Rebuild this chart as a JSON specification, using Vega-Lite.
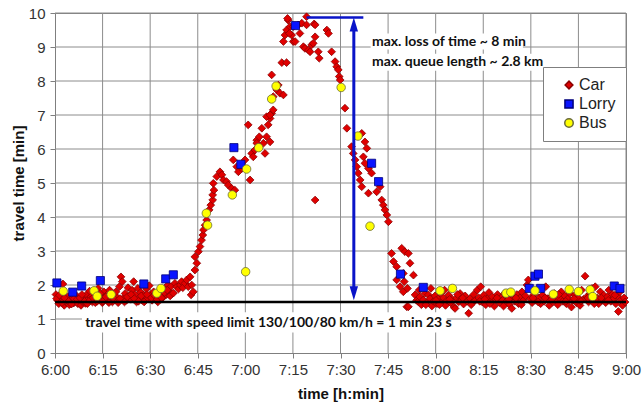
{
  "$schema": "https://vega.github.io/schema/vega-lite/v6.json",
  "width": 571,
  "height": 340,
  "autosize": {"type": "none"},
  "padding": {"left": 55, "top": 13, "right": 17, "bottom": 51},
  "background": "white",
  "config": {
    "view": {"stroke": "#7f7f7f", "strokeWidth": 1},
    "axis": {
      "domainColor": "#7f7f7f", "tickColor": "#7f7f7f", "tickSize": 5,
      "labelFont": "Liberation Sans", "labelFontSize": 15, "labelColor": "#333333", "labelFlush": false,
      "titleFont": "Liberation Sans", "titleFontSize": 15, "titleFontWeight": "bold", "titleColor": "#111111"
    },
    "legend": {
      "orient": "none", "legendX": 488, "legendY": 54,
      "fillColor": "white", "strokeColor": "#7f7f7f", "padding": 10,
      "labelFont": "Liberation Sans", "labelFontSize": 16, "labelColor": "#222222",
      "rowPadding": 3, "labelOffset": 2, "symbolOffset": 8, "zindex": 2
    }
  },
  "datasets": {
    "one": [{}],
    "xgrid": [{"g":15},{"g":30},{"g":45},{"g":60},{"g":75},{"g":90},{"g":105},{"g":120},{"g":135},{"g":150},{"g":165},{"g":180}],
    "ygrid": [{"g":1},{"g":2},{"g":3},{"g":4},{"g":5},{"g":6},{"g":7},{"g":8},{"g":9},{"g":10}],
    "obs": [
      {"t":0.3,"v":1.72,"s":"Car"},{"t":0.8,"v":1.55,"s":"Car"},{"t":1.2,"v":1.45,"s":"Car"},{"t":1.6,"v":1.62,"s":"Car"},{"t":2.0,"v":1.52,"s":"Car"},{"t":2.5,"v":2.03,"s":"Car"},{"t":2.9,"v":1.4,"s":"Car"},{"t":3.3,"v":1.58,"s":"Car"},{"t":3.7,"v":1.48,"s":"Car"},{"t":4.1,"v":1.66,"s":"Car"},{"t":4.5,"v":1.42,"s":"Car"},{"t":5.0,"v":1.55,"s":"Car"},{"t":5.4,"v":1.6,"s":"Car"},{"t":5.9,"v":1.47,"s":"Car"},{"t":6.3,"v":1.52,"s":"Car"},{"t":6.8,"v":1.68,"s":"Car"},{"t":7.2,"v":1.45,"s":"Car"},{"t":7.7,"v":1.55,"s":"Car"},{"t":8.2,"v":1.4,"s":"Car"},{"t":8.7,"v":1.5,"s":"Car"},{"t":9.1,"v":1.62,"s":"Car"},{"t":9.6,"v":1.46,"s":"Car"},{"t":10.0,"v":1.72,"s":"Car"},{"t":10.5,"v":1.58,"s":"Car"},{"t":10.9,"v":1.82,"s":"Car"},{"t":11.3,"v":1.65,"s":"Car"},{"t":11.8,"v":1.5,"s":"Car"},{"t":12.2,"v":1.55,"s":"Car"},{"t":12.7,"v":1.48,"s":"Car"},{"t":13.1,"v":1.7,"s":"Car"},{"t":13.6,"v":1.9,"s":"Car"},{"t":14.0,"v":1.56,"s":"Car"},{"t":14.5,"v":1.62,"s":"Car"},{"t":14.9,"v":1.48,"s":"Car"},{"t":15.4,"v":1.8,"s":"Car"},{"t":15.8,"v":1.58,"s":"Car"},{"t":16.3,"v":1.7,"s":"Car"},{"t":16.7,"v":1.52,"s":"Car"},{"t":17.2,"v":1.85,"s":"Car"},{"t":17.6,"v":1.6,"s":"Car"},{"t":18.1,"v":1.5,"s":"Car"},{"t":18.5,"v":1.72,"s":"Car"},{"t":19.0,"v":1.56,"s":"Car"},{"t":19.4,"v":1.65,"s":"Car"},{"t":19.9,"v":1.48,"s":"Car"},{"t":20.3,"v":1.95,"s":"Car"},{"t":20.8,"v":2.24,"s":"Car"},{"t":21.2,"v":2.1,"s":"Car"},{"t":21.6,"v":1.62,"s":"Car"},{"t":22.1,"v":1.75,"s":"Car"},{"t":22.5,"v":1.55,"s":"Car"},{"t":23.0,"v":1.92,"s":"Car"},{"t":23.4,"v":1.68,"s":"Car"},{"t":23.9,"v":1.58,"s":"Car"},{"t":24.3,"v":1.85,"s":"Car"},{"t":24.8,"v":2.1,"s":"Car"},{"t":25.2,"v":1.72,"s":"Car"},{"t":25.7,"v":1.5,"s":"Car"},{"t":26.1,"v":1.9,"s":"Car"},{"t":26.6,"v":1.62,"s":"Car"},{"t":27.0,"v":1.78,"s":"Car"},{"t":27.5,"v":1.55,"s":"Car"},{"t":27.9,"v":1.7,"s":"Car"},{"t":28.4,"v":1.65,"s":"Car"},{"t":28.8,"v":1.88,"s":"Car"},{"t":29.3,"v":1.6,"s":"Car"},{"t":29.7,"v":1.98,"s":"Car"},{"t":30.2,"v":1.72,"s":"Car"},{"t":30.6,"v":1.55,"s":"Car"},{"t":31.1,"v":1.8,"s":"Car"},{"t":31.5,"v":1.62,"s":"Car"},{"t":32.0,"v":1.68,"s":"Car"},{"t":32.4,"v":1.5,"s":"Car"},{"t":32.9,"v":1.75,"s":"Car"},{"t":33.3,"v":1.58,"s":"Car"},{"t":33.8,"v":1.85,"s":"Car"},{"t":34.2,"v":1.65,"s":"Car"},{"t":34.7,"v":1.9,"s":"Car"},{"t":35.1,"v":1.72,"s":"Car"},{"t":35.6,"v":2.0,"s":"Car"},{"t":36.0,"v":1.8,"s":"Car"},{"t":36.5,"v":1.95,"s":"Car"},{"t":36.9,"v":1.75,"s":"Car"},
      {"t":0.5,"v":1.6,"s":"Car"},{"t":1.4,"v":1.7,"s":"Car"},{"t":2.2,"v":1.48,"s":"Car"},{"t":3.0,"v":1.62,"s":"Car"},{"t":4.3,"v":1.52,"s":"Car"},{"t":5.2,"v":1.44,"s":"Car"},{"t":6.0,"v":1.6,"s":"Car"},{"t":7.0,"v":1.58,"s":"Car"},{"t":7.9,"v":1.62,"s":"Car"},{"t":8.5,"v":1.72,"s":"Car"},{"t":9.3,"v":1.52,"s":"Car"},{"t":10.2,"v":1.45,"s":"Car"},{"t":11.0,"v":1.55,"s":"Car"},{"t":12.0,"v":1.62,"s":"Car"},{"t":13.3,"v":1.52,"s":"Car"},{"t":14.2,"v":1.75,"s":"Car"},{"t":15.1,"v":1.52,"s":"Car"},{"t":16.0,"v":1.65,"s":"Car"},{"t":17.0,"v":1.48,"s":"Car"},{"t":18.3,"v":1.62,"s":"Car"},{"t":19.2,"v":1.8,"s":"Car"},{"t":20.5,"v":1.6,"s":"Car"},{"t":21.9,"v":1.5,"s":"Car"},{"t":22.8,"v":1.65,"s":"Car"},{"t":24.0,"v":1.72,"s":"Car"},{"t":25.0,"v":1.6,"s":"Car"},{"t":26.3,"v":1.52,"s":"Car"},{"t":27.2,"v":1.68,"s":"Car"},{"t":28.1,"v":1.5,"s":"Car"},{"t":29.0,"v":1.72,"s":"Car"},{"t":30.4,"v":1.62,"s":"Car"},{"t":31.3,"v":1.7,"s":"Car"},{"t":32.2,"v":1.58,"s":"Car"},{"t":33.6,"v":1.62,"s":"Car"},{"t":34.5,"v":1.78,"s":"Car"},{"t":35.4,"v":1.85,"s":"Car"},{"t":36.3,"v":1.68,"s":"Car"},
      {"t":37.3,"v":1.76,"s":"Car"},{"t":37.8,"v":2.05,"s":"Car"},{"t":38.4,"v":1.95,"s":"Car"},{"t":38.9,"v":1.88,"s":"Car"},{"t":39.5,"v":2.0,"s":"Car"},{"t":39.9,"v":2.1,"s":"Car"},{"t":40.3,"v":1.92,"s":"Car"},{"t":41.0,"v":2.05,"s":"Car"},{"t":41.5,"v":2.15,"s":"Car"},{"t":42.0,"v":1.95,"s":"Car"},{"t":42.6,"v":2.24,"s":"Car"},{"t":42.9,"v":1.71,"s":"Car"},{"t":43.1,"v":2.0,"s":"Car"},{"t":43.6,"v":1.8,"s":"Car"},{"t":44.1,"v":2.44,"s":"Car"},{"t":44.7,"v":2.64,"s":"Car"},{"t":44.1,"v":2.83,"s":"Car"},{"t":45.2,"v":2.98,"s":"Car"},{"t":45.7,"v":3.13,"s":"Car"},{"t":46.2,"v":3.32,"s":"Car"},{"t":46.6,"v":3.47,"s":"Car"},{"t":46.8,"v":3.62,"s":"Car"},{"t":47.3,"v":3.76,"s":"Car"},{"t":47.8,"v":3.91,"s":"Car"},{"t":48.6,"v":4.21,"s":"Car"},{"t":49.1,"v":4.35,"s":"Car"},{"t":49.7,"v":4.5,"s":"Car"},{"t":49.7,"v":4.65,"s":"Car"},{"t":50.1,"v":4.79,"s":"Car"},{"t":49.9,"v":4.99,"s":"Car"},{"t":51.0,"v":5.19,"s":"Car"},{"t":52.0,"v":5.33,"s":"Car"},{"t":52.6,"v":5.24,"s":"Car"},{"t":53.1,"v":5.09,"s":"Car"},{"t":54.1,"v":5.04,"s":"Car"},{"t":54.6,"v":4.94,"s":"Car"},{"t":55.7,"v":4.84,"s":"Car"},{"t":56.7,"v":4.79,"s":"Car"},{"t":56.2,"v":5.68,"s":"Car"},{"t":57.3,"v":5.48,"s":"Car"},{"t":57.8,"v":5.33,"s":"Car"},{"t":58.9,"v":5.43,"s":"Car"},{"t":59.9,"v":5.68,"s":"Car"},{"t":60.9,"v":6.71,"s":"Car"},{"t":61.5,"v":5.09,"s":"Car"},{"t":62.0,"v":5.87,"s":"Car"},{"t":63.0,"v":5.97,"s":"Car"},{"t":63.6,"v":6.26,"s":"Car"},{"t":64.4,"v":6.36,"s":"Car"},{"t":65.2,"v":6.61,"s":"Car"},{"t":65.7,"v":6.17,"s":"Car"},{"t":66.2,"v":5.87,"s":"Car"},{"t":66.7,"v":6.36,"s":"Car"},{"t":67.2,"v":6.71,"s":"Car"},{"t":67.8,"v":6.9,"s":"Car"},{"t":68.3,"v":7.05,"s":"Car"},{"t":68.8,"v":7.15,"s":"Car"},{"t":67.8,"v":6.21,"s":"Car"},{"t":64.1,"v":6.07,"s":"Car"},{"t":62.5,"v":5.77,"s":"Car"},{"t":63.6,"v":6.17,"s":"Car"},{"t":66.7,"v":6.95,"s":"Car"},{"t":67.8,"v":7.0,"s":"Car"},{"t":68.3,"v":8.18,"s":"Car"},{"t":68.8,"v":7.54,"s":"Car"},{"t":69.9,"v":7.74,"s":"Car"},{"t":70.9,"v":7.64,"s":"Car"},{"t":72.0,"v":7.59,"s":"Car"},{"t":70.4,"v":7.88,"s":"Car"},{"t":71.5,"v":8.54,"s":"Car"},{"t":73.0,"v":8.54,"s":"Car"},{"t":72.0,"v":9.16,"s":"Car"},{"t":72.5,"v":9.35,"s":"Car"},{"t":73.0,"v":9.5,"s":"Car"},{"t":73.5,"v":9.79,"s":"Car"},{"t":73.3,"v":9.84,"s":"Car"},{"t":74.1,"v":9.6,"s":"Car"},{"t":74.6,"v":9.35,"s":"Car"},{"t":75.1,"v":9.16,"s":"Car"},{"t":73.9,"v":9.4,"s":"Car"},{"t":75.1,"v":9.6,"s":"Car"},{"t":75.7,"v":9.16,"s":"Car"},{"t":76.7,"v":9.65,"s":"Car"},{"t":77.2,"v":9.4,"s":"Car"},{"t":77.8,"v":9.7,"s":"Car"},{"t":78.3,"v":9.01,"s":"Car"},{"t":78.8,"v":8.96,"s":"Car"},{"t":79.3,"v":9.65,"s":"Car"},{"t":79.3,"v":9.89,"s":"Car"},{"t":79.9,"v":8.91,"s":"Car"},{"t":80.4,"v":8.86,"s":"Car"},{"t":80.9,"v":9.06,"s":"Car"},{"t":81.4,"v":9.11,"s":"Car"},{"t":81.7,"v":9.68,"s":"Car"},{"t":82.0,"v":9.3,"s":"Car"},{"t":82.0,"v":9.65,"s":"Car"},{"t":83.0,"v":8.86,"s":"Car"},{"t":83.3,"v":8.67,"s":"Car"},{"t":82.0,"v":4.5,"s":"Car"},{"t":85.7,"v":9.5,"s":"Car"},{"t":86.2,"v":9.4,"s":"Car"},{"t":87.2,"v":8.86,"s":"Car"},{"t":88.3,"v":8.57,"s":"Car"},{"t":88.8,"v":8.42,"s":"Car"},{"t":89.3,"v":8.33,"s":"Car"},{"t":89.6,"v":8.13,"s":"Car"},{"t":89.9,"v":8.03,"s":"Car"},{"t":91.4,"v":7.2,"s":"Car"},{"t":92.0,"v":6.61,"s":"Car"},
      {"t":96.7,"v":6.46,"s":"Car"},{"t":97.7,"v":6.21,"s":"Car"},{"t":98.3,"v":6.02,"s":"Car"},{"t":93.5,"v":6.07,"s":"Car"},{"t":94.0,"v":5.87,"s":"Car"},{"t":94.6,"v":5.68,"s":"Car"},{"t":95.1,"v":5.48,"s":"Car"},{"t":97.2,"v":5.77,"s":"Car"},{"t":97.7,"v":5.58,"s":"Car"},{"t":98.8,"v":5.43,"s":"Car"},{"t":99.8,"v":5.29,"s":"Car"},{"t":95.6,"v":5.29,"s":"Car"},{"t":96.2,"v":5.09,"s":"Car"},{"t":96.7,"v":4.89,"s":"Car"},{"t":98.8,"v":4.7,"s":"Car"},{"t":101.4,"v":4.74,"s":"Car"},{"t":102.5,"v":4.89,"s":"Car"},{"t":103.0,"v":4.5,"s":"Car"},{"t":103.5,"v":4.35,"s":"Car"},{"t":104.0,"v":4.21,"s":"Car"},{"t":104.6,"v":4.06,"s":"Car"},{"t":105.1,"v":3.86,"s":"Car"},{"t":106.1,"v":2.93,"s":"Car"},{"t":106.7,"v":2.69,"s":"Car"},{"t":107.7,"v":2.54,"s":"Car"},{"t":109.3,"v":3.08,"s":"Car"},{"t":110.3,"v":2.98,"s":"Car"},{"t":111.4,"v":2.93,"s":"Car"},{"t":111.9,"v":2.64,"s":"Car"},{"t":107.7,"v":2.15,"s":"Car"},{"t":109.8,"v":2.34,"s":"Car"},{"t":113.0,"v":2.29,"s":"Car"},{"t":108.8,"v":1.95,"s":"Car"},{"t":109.8,"v":1.8,"s":"Car"},{"t":110.1,"v":2.1,"s":"Car"},{"t":111.1,"v":1.9,"s":"Car"},{"t":110.9,"v":1.36,"s":"Car"},{"t":111.4,"v":1.36,"s":"Car"},
      {"t":113.5,"v":1.71,"s":"Car"},{"t":114.0,"v":1.55,"s":"Car"},{"t":114.5,"v":1.51,"s":"Car"},{"t":115.0,"v":1.65,"s":"Car"},{"t":115.5,"v":1.42,"s":"Car"},{"t":116.1,"v":1.56,"s":"Car"},{"t":116.6,"v":1.75,"s":"Car"},{"t":117.2,"v":1.48,"s":"Car"},{"t":117.7,"v":1.71,"s":"Car"},{"t":118.2,"v":1.6,"s":"Car"},{"t":118.8,"v":1.38,"s":"Car"},{"t":119.3,"v":1.52,"s":"Car"},{"t":119.8,"v":1.68,"s":"Car"},{"t":120.4,"v":1.45,"s":"Car"},{"t":120.9,"v":1.6,"s":"Car"},{"t":121.5,"v":1.75,"s":"Car"},{"t":122.0,"v":1.5,"s":"Car"},{"t":122.5,"v":1.62,"s":"Car"},{"t":123.1,"v":1.4,"s":"Car"},{"t":123.6,"v":1.55,"s":"Car"},{"t":124.1,"v":1.7,"s":"Car"},{"t":124.7,"v":1.48,"s":"Car"},{"t":125.2,"v":1.58,"s":"Car"},{"t":125.8,"v":1.35,"s":"Car"},{"t":126.1,"v":1.31,"s":"Car"},{"t":126.6,"v":1.62,"s":"Car"},{"t":127.2,"v":1.5,"s":"Car"},{"t":127.7,"v":1.75,"s":"Car"},{"t":128.2,"v":1.55,"s":"Car"},{"t":128.8,"v":1.44,"s":"Car"},{"t":129.3,"v":1.68,"s":"Car"},{"t":129.9,"v":1.52,"s":"Car"},{"t":130.4,"v":1.17,"s":"Car"},{"t":130.9,"v":1.6,"s":"Car"},{"t":131.5,"v":1.48,"s":"Car"},{"t":132.0,"v":1.72,"s":"Car"},{"t":132.5,"v":1.55,"s":"Car"},{"t":133.1,"v":1.85,"s":"Car"},{"t":133.6,"v":1.62,"s":"Car"},{"t":134.2,"v":1.95,"s":"Car"},{"t":134.7,"v":1.5,"s":"Car"},{"t":135.2,"v":1.7,"s":"Car"},{"t":135.8,"v":1.42,"s":"Car"},{"t":136.3,"v":1.6,"s":"Car"},{"t":136.8,"v":1.78,"s":"Car"},{"t":137.4,"v":1.52,"s":"Car"},{"t":137.9,"v":1.65,"s":"Car"},{"t":138.5,"v":1.38,"s":"Car"},{"t":139.0,"v":1.58,"s":"Car"},{"t":139.5,"v":1.72,"s":"Car"},{"t":140.1,"v":1.48,"s":"Car"},{"t":140.6,"v":1.62,"s":"Car"},{"t":141.1,"v":1.55,"s":"Car"},{"t":141.7,"v":1.75,"s":"Car"},{"t":142.2,"v":1.5,"s":"Car"},{"t":142.8,"v":1.65,"s":"Car"},{"t":143.3,"v":1.42,"s":"Car"},{"t":144.0,"v":1.31,"s":"Car"},{"t":144.5,"v":1.6,"s":"Car"},{"t":145.0,"v":1.52,"s":"Car"},{"t":145.6,"v":1.72,"s":"Car"},{"t":146.1,"v":1.45,"s":"Car"},{"t":146.6,"v":1.62,"s":"Car"},{"t":147.2,"v":1.8,"s":"Car"},{"t":147.7,"v":1.55,"s":"Car"},{"t":148.3,"v":1.68,"s":"Car"},{"t":148.8,"v":2.0,"s":"Car"},{"t":149.2,"v":2.15,"s":"Car"},{"t":149.9,"v":1.6,"s":"Car"},{"t":150.4,"v":1.48,"s":"Car"},{"t":151.0,"v":1.72,"s":"Car"},{"t":151.5,"v":1.55,"s":"Car"},{"t":152.0,"v":1.85,"s":"Car"},{"t":152.6,"v":1.62,"s":"Car"},{"t":153.1,"v":1.45,"s":"Car"},{"t":153.7,"v":1.7,"s":"Car"},{"t":154.2,"v":1.52,"s":"Car"},{"t":154.7,"v":1.95,"s":"Car"},{"t":155.3,"v":1.6,"s":"Car"},{"t":155.8,"v":1.4,"s":"Car"},{"t":156.3,"v":1.65,"s":"Car"},{"t":156.9,"v":1.5,"s":"Car"},{"t":157.4,"v":1.75,"s":"Car"},{"t":158.0,"v":1.55,"s":"Car"},{"t":158.5,"v":1.42,"s":"Car"},{"t":159.0,"v":1.62,"s":"Car"},{"t":159.6,"v":1.8,"s":"Car"},{"t":160.1,"v":1.52,"s":"Car"},{"t":160.7,"v":1.68,"s":"Car"},{"t":161.2,"v":1.45,"s":"Car"},{"t":161.7,"v":1.6,"s":"Car"},{"t":162.3,"v":1.75,"s":"Car"},{"t":162.8,"v":1.35,"s":"Car"},{"t":163.3,"v":1.55,"s":"Car"},{"t":163.9,"v":1.7,"s":"Car"},{"t":164.4,"v":1.48,"s":"Car"},{"t":165.0,"v":1.62,"s":"Car"},{"t":165.5,"v":1.4,"s":"Car"},{"t":166.0,"v":1.85,"s":"Car"},{"t":166.6,"v":1.58,"s":"Car"},{"t":167.1,"v":2.26,"s":"Car"},{"t":167.6,"v":1.65,"s":"Car"},{"t":168.2,"v":1.5,"s":"Car"},{"t":168.7,"v":1.75,"s":"Car"},{"t":169.3,"v":1.9,"s":"Car"},{"t":169.8,"v":1.55,"s":"Car"},{"t":170.3,"v":1.95,"s":"Car"},{"t":170.9,"v":1.62,"s":"Car"},{"t":171.4,"v":1.45,"s":"Car"},{"t":171.9,"v":1.8,"s":"Car"},{"t":172.5,"v":1.55,"s":"Car"},{"t":173.0,"v":1.7,"s":"Car"},{"t":173.6,"v":1.48,"s":"Car"},{"t":174.1,"v":1.65,"s":"Car"},{"t":174.6,"v":1.85,"s":"Car"},{"t":175.2,"v":1.52,"s":"Car"},{"t":175.7,"v":1.72,"s":"Car"},{"t":176.2,"v":1.6,"s":"Car"},{"t":176.8,"v":1.45,"s":"Car"},{"t":177.3,"v":1.68,"s":"Car"},{"t":177.6,"v":1.22,"s":"Car"},{"t":178.4,"v":1.55,"s":"Car"},{"t":178.9,"v":1.4,"s":"Car"},{"t":179.4,"v":1.62,"s":"Car"},
      {"t":114.8,"v":1.85,"s":"Car"},{"t":116.9,"v":1.42,"s":"Car"},{"t":118.5,"v":1.9,"s":"Car"},{"t":120.1,"v":1.55,"s":"Car"},{"t":121.2,"v":1.42,"s":"Car"},{"t":122.8,"v":1.85,"s":"Car"},{"t":124.4,"v":1.58,"s":"Car"},{"t":126.9,"v":1.72,"s":"Car"},{"t":128.5,"v":1.62,"s":"Car"},{"t":131.2,"v":1.42,"s":"Car"},{"t":133.9,"v":1.52,"s":"Car"},{"t":135.5,"v":1.58,"s":"Car"},{"t":137.1,"v":1.45,"s":"Car"},{"t":139.3,"v":1.62,"s":"Car"},{"t":141.4,"v":1.38,"s":"Car"},{"t":143.0,"v":1.58,"s":"Car"},{"t":145.3,"v":1.62,"s":"Car"},{"t":147.0,"v":1.42,"s":"Car"},{"t":150.7,"v":1.62,"s":"Car"},{"t":152.3,"v":1.5,"s":"Car"},{"t":154.5,"v":1.62,"s":"Car"},{"t":156.6,"v":1.58,"s":"Car"},{"t":158.8,"v":1.72,"s":"Car"},{"t":161.0,"v":1.52,"s":"Car"},{"t":163.6,"v":1.6,"s":"Car"},{"t":165.8,"v":1.52,"s":"Car"},{"t":168.0,"v":1.62,"s":"Car"},{"t":170.0,"v":1.45,"s":"Car"},{"t":172.2,"v":1.62,"s":"Car"},{"t":174.4,"v":1.55,"s":"Car"},{"t":176.5,"v":1.7,"s":"Car"},{"t":178.1,"v":1.8,"s":"Car"},{"t":179.7,"v":1.5,"s":"Car"},
      {"t":0.6,"v":2.06,"s":"Lorry"},{"t":5.6,"v":1.79,"s":"Lorry"},{"t":8.4,"v":1.97,"s":"Lorry"},{"t":14.3,"v":2.13,"s":"Lorry"},{"t":28.0,"v":2.03,"s":"Lorry"},{"t":34.9,"v":2.18,"s":"Lorry"},{"t":37.3,"v":2.3,"s":"Lorry"},{"t":56.4,"v":6.04,"s":"Lorry"},{"t":58.6,"v":5.55,"s":"Lorry"},{"t":75.8,"v":9.63,"s":"Lorry"},{"t":99.8,"v":5.58,"s":"Lorry"},{"t":102.0,"v":5.04,"s":"Lorry"},{"t":108.9,"v":2.32,"s":"Lorry"},{"t":116.1,"v":1.93,"s":"Lorry"},{"t":149.5,"v":1.9,"s":"Lorry"},{"t":151.3,"v":2.26,"s":"Lorry"},{"t":152.4,"v":2.32,"s":"Lorry"},{"t":153.1,"v":1.9,"s":"Lorry"},{"t":176.3,"v":1.97,"s":"Lorry"},{"t":178.1,"v":1.9,"s":"Lorry"},
      {"t":2.6,"v":1.82,"s":"Bus"},{"t":12.3,"v":1.83,"s":"Bus"},{"t":13.3,"v":1.67,"s":"Bus"},{"t":17.7,"v":1.72,"s":"Bus"},{"t":32.1,"v":1.76,"s":"Bus"},{"t":33.4,"v":1.9,"s":"Bus"},{"t":47.7,"v":4.11,"s":"Bus"},{"t":48.1,"v":3.76,"s":"Bus"},{"t":55.9,"v":4.65,"s":"Bus"},{"t":60.1,"v":2.39,"s":"Bus"},{"t":60.4,"v":5.41,"s":"Bus"},{"t":64.2,"v":6.04,"s":"Bus"},{"t":68.3,"v":7.47,"s":"Bus"},{"t":69.7,"v":7.85,"s":"Bus"},{"t":90.2,"v":7.81,"s":"Bus"},{"t":95.5,"v":6.38,"s":"Bus"},{"t":99.3,"v":3.73,"s":"Bus"},{"t":121.4,"v":1.83,"s":"Bus"},{"t":125.3,"v":1.9,"s":"Bus"},{"t":142.2,"v":1.76,"s":"Bus"},{"t":143.7,"v":1.79,"s":"Bus"},{"t":151.3,"v":1.83,"s":"Bus"},{"t":157.1,"v":1.73,"s":"Bus"},{"t":162.1,"v":1.87,"s":"Bus"},{"t":165.0,"v":1.81,"s":"Bus"},{"t":168.7,"v":1.86,"s":"Bus"},{"t":169.5,"v":1.66,"s":"Bus"}
    ]
  },
  "resolve": {"scale": {"x": "shared", "y": "shared"}, "axis": {"x": "independent", "y": "independent"}},
  "layer": [
    {"data": {"name": "xgrid"}, "mark": {"type": "rule", "color": "#8c8c8c", "strokeWidth": 1},
     "encoding": {"x": {"field": "g", "type": "quantitative", "axis": null}}},
    {"data": {"name": "ygrid"}, "mark": {"type": "rule", "color": "#8c8c8c", "strokeWidth": 1},
     "encoding": {"y": {"field": "g", "type": "quantitative", "axis": null}}},
    {"data": {"name": "one"}, "mark": {"type": "rect", "fill": "white"},
     "encoding": {"x": {"datum": 8.5, "axis": null}, "x2": {"datum": 123.5}, "y": {"datum": 1.2, "axis": null}, "y2": {"datum": 0.6}}},
    {"data": {"name": "one"}, "mark": {"type": "rect", "fill": "white"},
     "encoding": {"x": {"datum": 99.5, "axis": null}, "x2": {"datum": 147.5}, "y": {"datum": 9.4, "axis": null}, "y2": {"datum": 8.93}}},
    {"data": {"name": "one"}, "mark": {"type": "rect", "fill": "white"},
     "encoding": {"x": {"datum": 99.5, "axis": null}, "x2": {"datum": 152.5}, "y": {"datum": 8.8, "axis": null}, "y2": {"datum": 8.3}}},
    {"data": {"name": "obs"},
     "mark": {"type": "point", "filled": true, "opacity": 1, "strokeWidth": 0.8},
     "encoding": {
       "x": {"field": "t", "type": "quantitative", "scale": {"domain": [0, 180], "nice": false, "zero": false},
         "axis": {"grid": false, "values": [0,15,30,45,60,75,90,105,120,135,150,165,180], "title": "time [h:min]", "titleY": 40, "titleBaseline": "middle", "labelPadding": 4, "labelOverlap": false,
           "labelExpr": "(6 + floor(datum.value / 60)) + ':' + (datum.value % 60 < 10 ? '0' : '') + (datum.value % 60)"}},
       "y": {"field": "v", "type": "quantitative", "scale": {"domain": [0, 10], "nice": false},
         "axis": {"grid": false, "values": [0,1,2,3,4,5,6,7,8,9,10], "title": "travel time [min]", "titleX": -37, "titleBaseline": "middle", "labelPadding": 5, "labelOverlap": false}},
       "shape": {"field": "s", "type": "nominal", "scale": {"domain": ["Car", "Lorry", "Bus"], "range": ["diamond", "square", "circle"]}, "legend": {"title": null}},
       "fill": {"field": "s", "type": "nominal", "scale": {"domain": ["Car", "Lorry", "Bus"], "range": ["#e00000", "#0a14ff", "#ffff00"]}, "legend": {"title": null}},
       "stroke": {"field": "s", "type": "nominal", "scale": {"domain": ["Car", "Lorry", "Bus"], "range": ["#8a0000", "#00007a", "#6b6b3a"]}, "legend": {"title": null}},
       "size": {"field": "s", "type": "nominal", "scale": {"domain": ["Car", "Lorry", "Bus"], "range": [60, 72, 64]}, "legend": {"title": null}}
     }},
    {"data": {"name": "one"}, "mark": {"type": "rule", "color": "#000000", "strokeWidth": 2.5},
     "encoding": {"y": {"datum": 1.5, "axis": null}}},
    {"data": {"name": "one"}, "mark": {"type": "rule", "color": "#0a14c8", "strokeWidth": 3},
     "encoding": {"x": {"datum": 94.2, "axis": null}, "y": {"datum": 1.8, "axis": null}, "y2": {"datum": 9.6}}},
    {"data": {"name": "one"}, "mark": {"type": "rule", "color": "#0a14c8", "strokeWidth": 2.5},
     "encoding": {"x": {"datum": 79.3, "axis": null}, "x2": {"datum": 97.2}, "y": {"datum": 9.87, "axis": null}}},
    {"data": {"name": "one"}, "mark": {"type": "point", "filled": true, "color": "#0a14c8", "opacity": 1, "shape": "M0,-1L0.6,1L-0.6,1Z", "size": 196},
     "encoding": {"x": {"datum": 94.2, "axis": null}, "y": {"datum": 9.66, "axis": null}}},
    {"data": {"name": "one"}, "mark": {"type": "point", "filled": true, "color": "#0a14c8", "opacity": 1, "shape": "M0,1L0.6,-1L-0.6,-1Z", "size": 196},
     "encoding": {"x": {"datum": 94.2, "axis": null}, "y": {"datum": 1.76, "axis": null}}},
    {"data": {"name": "one"}, "mark": {"type": "text", "align": "left", "baseline": "middle", "font": "Lato", "fontSize": 14, "fontWeight": "bold", "color": "#111111"},
     "encoding": {"x": {"datum": 99.9, "axis": null}, "y": {"datum": 9.16, "axis": null}, "text": {"value": "max. loss of time ~ 8 min"}}},
    {"data": {"name": "one"}, "mark": {"type": "text", "align": "left", "baseline": "middle", "font": "Lato", "fontSize": 14, "fontWeight": "bold", "color": "#111111"},
     "encoding": {"x": {"datum": 99.9, "axis": null}, "y": {"datum": 8.56, "axis": null}, "text": {"value": "max. queue length ~ 2.8 km"}}},
    {"data": {"name": "one"}, "mark": {"type": "text", "align": "left", "baseline": "middle", "font": "Lato", "fontSize": 14, "fontWeight": "bold", "color": "#111111"},
     "encoding": {"x": {"datum": 9.5, "axis": null}, "y": {"datum": 0.88, "axis": null}, "text": {"value": "travel time with speed limit 130/100/80 km/h = 1 min 23 s"}}}
  ]
}
